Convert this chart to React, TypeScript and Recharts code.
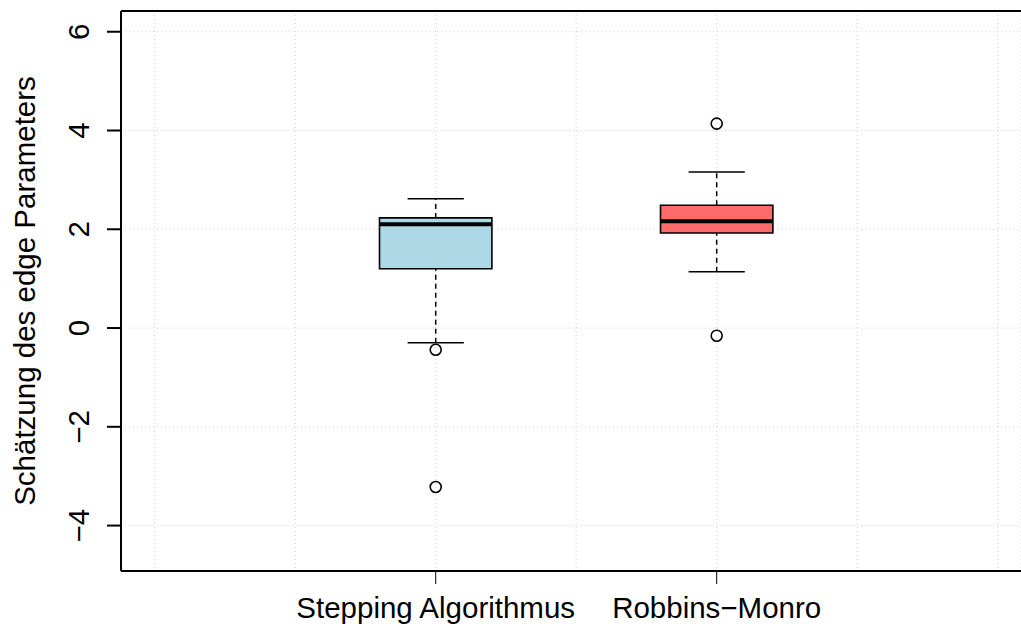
import React from "react";
import {
  ComposedChart,
  XAxis,
  YAxis,
  CartesianGrid,
  ReferenceArea,
  ReferenceLine,
  Scatter,
} from "recharts";

const categories = ["Stepping Algorithmus", "Robbins\u2212Monro"];
const positions = [1, 2];
const whiskerLow = [-0.3, 1.14];
const q1 = [1.2, 1.925];
const median = [2.1, 2.16];
const q3 = [2.23, 2.485];
const whiskerHigh = [2.62, 3.16];
const outliers = [
  [-0.44, -3.22],
  [4.14, -0.155],
];
const fills = ["#ADD8E6", "#FF6A6A"];
const yTicks = [-4, -2, 0, 2, 4, 6];
const xGridTicks = [0, 0.5, 1, 1.5, 2, 2.5, 3];
const yLabel = "Sch\u00e4tzung des edge Parameters";

// visible part of the x range (the original frame continues past the right edge)
const X_MIN = -0.12;
const X_MAX = 3.083;
const Y_MIN = -4.92;
const Y_MAX = 6.42;

const FONT = "'Liberation Sans', Arial, Helvetica, sans-serif";
const FS = 29.5;
const BOX_HALF = 0.2;
const CAP_HALF = 0.1;

const outlierData = outliers.flatMap((vals, i) =>
  vals.map((v) => ({ x: positions[i], y: v }))
);

const XTick = (props: any) => {
  const { x, y, payload } = props;
  const idx = positions.indexOf(payload.value);
  if (idx < 0) return null;
  return (
    <g>
      <line x1={x} x2={x} y1={y} y2={y + 13} stroke="#000" strokeWidth={1} />
      <text x={x} y={y + 47} textAnchor="middle" fontFamily={FONT} fontSize={FS} fill="#000">
        {categories[idx]}
      </text>
    </g>
  );
};

const YTick = (props: any) => {
  const { x, y, payload } = props;
  const tx = x - 32;
  return (
    <g>
      <line x1={x - 14} x2={x} y1={y} y2={y} stroke="#000" strokeWidth={2} />
      <text
        x={tx}
        y={y}
        textAnchor="middle"
        transform={`rotate(-90, ${tx}, ${y})`}
        fontFamily={FONT}
        fontSize={FS}
        fill="#000"
      >
        {payload.value < 0 ? "\u2212" + Math.abs(payload.value) : payload.value}
      </text>
    </g>
  );
};

const OutlierShape = (props: any) => (
  <circle cx={props.cx} cy={props.cy} r={5.5} fill="none" stroke="#000" strokeWidth={1.6} />
);

export default function App() {
  return (
    <div style={{ position: "absolute", left: 0, top: 0, width: 1021, height: 626 }}>
      <ComposedChart
        width={1021}
        height={626}
        data={outlierData}
        margin={{ top: 11, right: 0, bottom: 0, left: 0 }}
      >
        <CartesianGrid stroke="#D3D3D3" strokeDasharray="1 3" strokeWidth={1} />
        <XAxis
          dataKey="x"
          type="number"
          domain={[X_MIN, X_MAX]}
          allowDataOverflow
          ticks={xGridTicks}
          interval={0}
          height={55}
          axisLine={false}
          tickLine={false}
          tickSize={0}
          tickMargin={0}
          tick={<XTick />}
        />
        <YAxis
          dataKey="y"
          type="number"
          domain={[Y_MIN, Y_MAX]}
          allowDataOverflow
          ticks={yTicks}
          interval={0}
          width={121}
          axisLine={false}
          tickLine={false}
          tickSize={0}
          tickMargin={0}
          tick={<YTick />}
        />
        <ReferenceLine
          segment={[{ x: X_MIN, y: Y_MIN }, { x: X_MIN, y: Y_MAX }]}
          stroke="#000"
          strokeWidth={2}
          ifOverflow="visible"
        />
        <ReferenceLine
          segment={[{ x: X_MIN, y: Y_MAX }, { x: X_MAX, y: Y_MAX }]}
          stroke="#000"
          strokeWidth={2}
          ifOverflow="visible"
        />
        <ReferenceLine
          segment={[{ x: X_MIN, y: Y_MIN }, { x: X_MAX, y: Y_MIN }]}
          stroke="#000"
          strokeWidth={2}
          ifOverflow="visible"
        />
        {positions.map((p, i) => (
          <ReferenceLine
            key={`wl${i}`}
            segment={[{ x: p, y: whiskerLow[i] }, { x: p, y: q1[i] }]}
            stroke="#000"
            strokeWidth={1.5}
            strokeDasharray="5 4"
            ifOverflow="visible"
          />
        ))}
        {positions.map((p, i) => (
          <ReferenceLine
            key={`wh${i}`}
            segment={[{ x: p, y: q3[i] }, { x: p, y: whiskerHigh[i] }]}
            stroke="#000"
            strokeWidth={1.5}
            strokeDasharray="5 4"
            ifOverflow="visible"
          />
        ))}
        {positions.map((p, i) => (
          <ReferenceLine
            key={`cl${i}`}
            segment={[{ x: p - CAP_HALF, y: whiskerLow[i] }, { x: p + CAP_HALF, y: whiskerLow[i] }]}
            stroke="#000"
            strokeWidth={1.5}
            ifOverflow="visible"
          />
        ))}
        {positions.map((p, i) => (
          <ReferenceLine
            key={`ch${i}`}
            segment={[{ x: p - CAP_HALF, y: whiskerHigh[i] }, { x: p + CAP_HALF, y: whiskerHigh[i] }]}
            stroke="#000"
            strokeWidth={1.5}
            ifOverflow="visible"
          />
        ))}
        {positions.map((p, i) => (
          <ReferenceArea
            key={`box${i}`}
            x1={p - BOX_HALF}
            x2={p + BOX_HALF}
            y1={q1[i]}
            y2={q3[i]}
            fill={fills[i]}
            fillOpacity={1}
            stroke="#000"
            strokeWidth={1.6}
            ifOverflow="visible"
          />
        ))}
        {positions.map((p, i) => (
          <ReferenceLine
            key={`med${i}`}
            segment={[{ x: p - BOX_HALF, y: median[i] }, { x: p + BOX_HALF, y: median[i] }]}
            stroke="#000"
            strokeWidth={4}
            ifOverflow="visible"
          />
        ))}
        <Scatter data={outlierData} dataKey="y" shape={<OutlierShape />} isAnimationActive={false} />
      </ComposedChart>
      <svg
        width={60}
        height={626}
        style={{ position: "absolute", left: 0, top: 0, pointerEvents: "none" }}
      >
        <text
          x={35}
          y={291}
          textAnchor="middle"
          transform="rotate(-90, 35, 291)"
          fontFamily={FONT}
          fontSize={FS}
          fill="#000"
        >
          {yLabel}
        </text>
      </svg>
    </div>
  );
}
